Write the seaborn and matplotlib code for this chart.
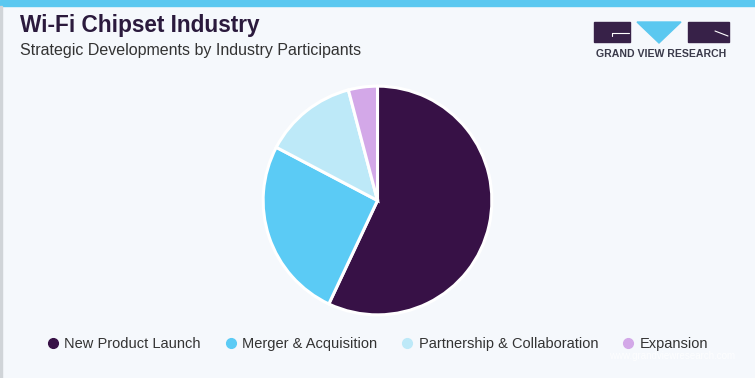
import matplotlib
matplotlib.use("Agg")
import matplotlib.pyplot as plt
import seaborn as sns
from matplotlib.patches import Rectangle, Polygon
from matplotlib.lines import Line2D

categories = ["New Product Launch", "Merger & Acquisition", "Partnership & Collaboration", "Expansion"]
shares = [57.0, 25.7, 13.2, 4.1]
colors = ["#371146", "#5BCBF5", "#BDE9F8", "#D3A8E8"]

sns.set_theme(style="white")
plt.rcParams['font.family'] = ['Liberation Sans', 'DejaVu Sans']

W, H = 755, 378
bg = "#F5F8FC"
fig = plt.figure(figsize=(W / 100, H / 100), dpi=100, facecolor=bg)

# top bar and left border
fig.patches.append(Rectangle((0, 1 - 6 / H), 1, 6 / H, transform=fig.transFigure,
                             color="#5BC8F0", zorder=0))
fig.patches.append(Rectangle((0, 0), 1.5 / W, 1 - 6 / H, transform=fig.transFigure,
                             color="#D0D4D8", zorder=0))

# titles
fig.text(20 / W, 1 - 32 / H, "Wi-Fi Chipset Industry", fontsize=16.3, fontweight="bold",
         color="#2B1A3D", ha="left", va="baseline")
fig.text(20 / W, 1 - 55 / H, "Strategic Developments by Industry Participants", fontsize=11.5,
         color="#333333", ha="left", va="baseline")

# logo
lax = fig.add_axes([0, 0, 1, 1], facecolor="none")
lax.set_xlim(0, W)
lax.set_ylim(H, 0)
lax.axis("off")
dark = "#372148"
lax.add_patch(Rectangle((594, 22), 36, 20, color=dark))
lax.add_patch(Polygon([(637, 22), (681, 22), (659, 43)], closed=True, color="#5BC8F0"))
lax.add_patch(Rectangle((688, 22), 41, 20, color=dark))
lax.plot([612, 629], [33, 33], color="white", lw=0.8)
lax.plot([612, 612], [33, 36], color="white", lw=0.8)
lax.plot([715, 728], [31, 36], color="white", lw=0.8)
lax.text(661.5, 54, "GRAND VIEW RESEARCH", fontsize=7.6, fontweight="bold", color="#3A3A4A",
         ha="center", va="center")

# pie
cx, cy, r = 377.5, 200.5, 115.5
ax = fig.add_axes([(cx - r) / W, (H - cy - r) / H, 2 * r / W, 2 * r / H])
ax.set_facecolor("none")
ax.pie(shares, colors=colors, startangle=90, counterclock=False, radius=1,
       wedgeprops=dict(edgecolor="white", linewidth=2.2))
ax.set_xlim(-1.01, 1.01)
ax.set_ylim(-1.01, 1.01)
ax.set_aspect("equal")
ax.axis("off")

# legend
handles = [Line2D([0], [0], marker="o", linestyle="none", markersize=7,
                  markerfacecolor=c, markeredgecolor=c) for c in colors]
fig.legend(handles, categories, loc="center", bbox_to_anchor=(377 / W, 1 - 344 / H),
           ncol=4, frameon=False, fontsize=10.5, handletextpad=0.3, columnspacing=1.55,
           labelcolor="#333333", handlelength=1.0)

fig.text(735 / W, 1 - 356 / H, "www.grandviewresearch.com", fontsize=7, color="white",
         ha="right", va="center", alpha=0.8)

fig.savefig("out.png", dpi=100, facecolor=bg)
